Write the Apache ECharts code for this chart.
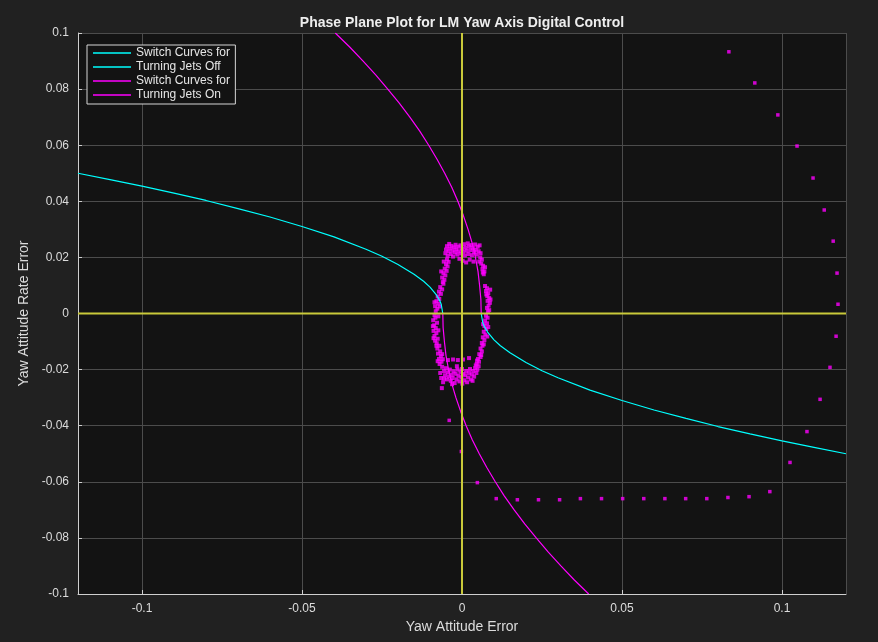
<!DOCTYPE html>
<html>
<head>
<meta charset="utf-8">
<script src="https://cdn.jsdelivr.net/npm/echarts@6/dist/echarts.min.js"></script>
<style>
html,body{margin:0;padding:0;background:#212121;}
#chart{width:878px;height:642px;}
</style>
</head>
<body>
<div id="chart"></div>
<script>
// ---- Data ----
const titleText = 'Phase Plane Plot for LM Yaw Axis Digital Control';
const xAxisName = 'Yaw Attitude Error';
const yAxisName = 'Yaw Attitude Rate Error';
const legendNames = ['Switch Curves for', 'Turning Jets Off', 'Switch Curves for ', 'Turning Jets On'];

// Switch curves for turning jets off (cyan)
const jetsOffUpper = [[-0.12,0.0500],[-0.11,0.0477],[-0.10,0.0454],[-0.09,0.0429],[-0.08,0.0403],[-0.07,0.0374],[-0.06,0.0344],[-0.05,0.0310],[-0.04,0.0273],[-0.03,0.0229],[-0.025,0.0204],[-0.02,0.0175],[-0.015,0.0140],[-0.012,0.0115],[-0.010,0.0094],[-0.008,0.0066],[-0.007,0.0047],[-0.0065,0.0033],[-0.006,0]];
const jetsOffLower = [[0.006,0],[0.0065,-0.0033],[0.007,-0.0047],[0.008,-0.0066],[0.010,-0.0094],[0.012,-0.0115],[0.015,-0.0140],[0.02,-0.0175],[0.025,-0.0204],[0.03,-0.0229],[0.04,-0.0273],[0.05,-0.0310],[0.06,-0.0344],[0.07,-0.0374],[0.08,-0.0403],[0.09,-0.0429],[0.10,-0.0454],[0.11,-0.0477],[0.12,-0.0500]];

// Switch curves for turning jets on (magenta)
const jetsOnUpper = [[-0.0396,0.100],[-0.0351,0.095],[-0.0309,0.090],[-0.0269,0.085],[-0.0232,0.080],[-0.0196,0.075],[-0.0163,0.070],[-0.0132,0.065],[-0.0104,0.060],[-0.0078,0.055],[-0.0054,0.050],[-0.0032,0.045],[-0.0013,0.040],[0.0004,0.035],[0.0019,0.030],[0.0032,0.025],[0.0042,0.020],[0.0050,0.015],[0.0055,0.010],[0.0059,0.005],[0.0060,0]];
const jetsOnLower = [[-0.0060,0],[-0.0059,-0.005],[-0.0055,-0.010],[-0.0050,-0.015],[-0.0042,-0.020],[-0.0032,-0.025],[-0.0019,-0.030],[-0.0004,-0.035],[0.0013,-0.040],[0.0032,-0.045],[0.0054,-0.050],[0.0078,-0.055],[0.0104,-0.060],[0.0132,-0.065],[0.0163,-0.070],[0.0196,-0.075],[0.0232,-0.080],[0.0269,-0.085],[0.0309,-0.090],[0.0351,-0.095],[0.0396,-0.100]];

// Zero reference lines (yellow)
const zeroVertical = [[0,-0.1],[0,0.1]];
const zeroHorizontal = [[-0.12,0],[0.12,0]];

// Sampled trajectory (magenta dots)
const trajectoryPoints = [[0.0834,0.0933],[0.0915,0.0822],[0.0987,0.0708],[0.1047,0.0597],[0.1097,0.0483],[0.1132,0.0369],[0.1160,0.0258],[0.1172,0.0144],[0.1175,0.0033],[0.1169,-0.0081],[0.1150,-0.0192],[0.1119,-0.0306],[0.1078,-0.0421],[0.1025,-0.0531],[0.0962,-0.0635],[0.0897,-0.0653],[0.0831,-0.0656],[0.0765,-0.0660],[0.0699,-0.0660],[0.0634,-0.0660],[0.0568,-0.0660],[0.0502,-0.0660],[0.0436,-0.0660],[0.0370,-0.0660],[0.0305,-0.0664],[0.0239,-0.0664],[0.0173,-0.0664],[0.0107,-0.0660],[0.0048,-0.0603],[-0.0002,-0.0492],[-0.0040,-0.0381]];

// Limit cycle cluster (magenta dots)
const limitCyclePoints = [
[-0.0052,0.0215],[-0.0050,0.0228],[-0.0047,0.0240],[-0.0045,0.0205],[-0.0042,0.0221],[-0.0040,0.0248],[-0.0038,0.0232],[-0.0035,0.0212],[-0.0033,0.0241],[-0.0030,0.0225],[-0.0028,0.0203],[-0.0025,0.0236],[-0.0022,0.0218],[-0.0020,0.0245],[-0.0018,0.0229],[-0.0015,0.0210],[-0.0012,0.0238],[-0.0010,0.0222],[-0.0008,0.0195],[-0.0005,0.0243],[-0.0003,0.0214],[0.0000,0.0231],[0.0002,0.0188],[0.0004,0.0220],[0.0006,0.0247],[0.0009,0.0207],[0.0011,0.0235],[0.0013,0.0182],[0.0015,0.0224],[0.0018,0.0250],[0.0020,0.0212],[0.0022,0.0239],[0.0024,0.0192],[0.0027,0.0226],[0.0029,0.0244],[0.0031,0.0208],[0.0034,0.0233],[0.0036,0.0185],[0.0038,0.0219],[0.0041,0.0246],[0.0043,0.0227],[0.0046,0.0210],[0.0049,0.0238],[0.0052,0.0222],[0.0055,0.0243],[0.0058,0.0215],
[0.0057,0.0200],[0.0062,0.0192],[0.0060,0.0178],[0.0066,0.0170],[0.0064,0.0158],[0.0070,0.0150],[0.0068,0.0140],
[0.0054,0.0185],[0.0072,0.0165],[0.0065,0.0146],
[0.0072,0.0098],[0.0078,0.0090],[0.0075,0.0080],[0.0082,0.0072],[0.0079,0.0062],[0.0085,0.0055],[0.0080,0.0045],[0.0087,0.0038],[0.0083,0.0028],[0.0078,0.0020],[0.0085,0.0012],
[0.0088,0.0085],[0.0076,0.0068],[0.0089,0.0050],[0.0081,0.0008],
[0.0075,-0.0008],[0.0080,-0.0015],[0.0072,-0.0025],[0.0078,-0.0035],[0.0070,-0.0045],[0.0076,-0.0055],[0.0068,-0.0065],[0.0073,-0.0075],[0.0065,-0.0085],[0.0070,-0.0095],[0.0062,-0.0105],
[0.0082,-0.0048],[0.0066,-0.0038],[0.0079,-0.0082],[0.0068,-0.0110],
[0.0064,-0.0115],[0.0058,-0.0125],[0.0062,-0.0135],[0.0054,-0.0145],[0.0058,-0.0155],[0.0050,-0.0162],[0.0053,-0.0172],[0.0046,-0.0180],
[0.0060,-0.0148],[0.0047,-0.0168],
[0.0052,-0.0188],[0.0048,-0.0200],[0.0045,-0.0212],[0.0041,-0.0195],[0.0038,-0.0225],[0.0035,-0.0205],[0.0031,-0.0218],[0.0028,-0.0235],[0.0025,-0.0198],[0.0022,-0.0212],[0.0019,-0.0228],[0.0016,-0.0245],[0.0013,-0.0205],[0.0010,-0.0220],[0.0007,-0.0238],[0.0004,-0.0215],[0.0001,-0.0250],[-0.0002,-0.0227],[-0.0005,-0.0208],[-0.0008,-0.0242],[-0.0011,-0.0222],[-0.0014,-0.0200],[-0.0017,-0.0235],[-0.0020,-0.0215],[-0.0023,-0.0248],[-0.0026,-0.0206],[-0.0029,-0.0230],[-0.0032,-0.0218],[-0.0035,-0.0240],[-0.0038,-0.0200],[-0.0041,-0.0225],[-0.0044,-0.0210],[-0.0047,-0.0235],[-0.0050,-0.0195],[-0.0053,-0.0220],[-0.0056,-0.0205],[-0.0059,-0.0245],[-0.0062,-0.0190],[-0.0065,-0.0230],[-0.0068,-0.0212],
[-0.0056,-0.0232],[0.0000,-0.0198],[0.0033,-0.0240],[-0.0031,-0.0252],[0.0043,-0.0185],[-0.0016,-0.0188],
[-0.0070,-0.0180],[-0.0064,-0.0172],[-0.0072,-0.0162],[-0.0066,-0.0152],[-0.0075,-0.0143],[-0.0068,-0.0135],[-0.0077,-0.0125],[-0.0071,-0.0115],[-0.0079,-0.0106],
[-0.0080,-0.0115],[-0.0062,-0.0145],[-0.0076,-0.0170],[-0.0060,-0.0163],
[-0.0084,-0.0097],[-0.0076,-0.0090],[-0.0086,-0.0080],[-0.0080,-0.0070],[-0.0089,-0.0062],[-0.0082,-0.0052],[-0.0087,-0.0042],[-0.0078,-0.0033],[-0.0090,-0.0024],[-0.0083,-0.0015],[-0.0086,-0.0006],
[-0.0091,-0.0045],[-0.0074,-0.0060],[-0.0089,-0.0088],[-0.0074,-0.0010],
[-0.0082,0.0008],[-0.0077,0.0017],[-0.0084,0.0026],[-0.0074,0.0035],[-0.0080,0.0044],[-0.0071,0.0052],[-0.0076,0.0061],[-0.0066,0.0070],[-0.0072,0.0078],[-0.0062,0.0086],[-0.0068,0.0094],
[-0.0086,0.0040],[-0.0070,0.0025],
[-0.0060,0.0112],[-0.0055,0.0120],[-0.0062,0.0128],[-0.0052,0.0136],[-0.0058,0.0144],[-0.0048,0.0152],[-0.0054,0.0160],[-0.0045,0.0168],[-0.0050,0.0176],[-0.0042,0.0184],[-0.0047,0.0192],
[-0.0057,0.0185],[-0.0065,0.0150],[-0.0058,0.0106],
[-0.0044,-0.0166],[-0.0028,-0.0164],[-0.0013,-0.0166],[0.0003,-0.0164],[0.0022,-0.0159],
[-0.0063,-0.0266]
];

// Axis settings
const xRange = [-0.12, 0.12];
const yRange = [-0.1, 0.1];
const yStep = 0.02;

// ---- Chart ----
const FONT = "'Liberation Sans', Arial, Helvetica, sans-serif";
const CYAN = '#00ffff', MAGENTA = '#ff00ff', YELLOW = '#c9c93a';
const chart = echarts.init(document.getElementById('chart'), null, {renderer: 'canvas'});

function curve(name, data, color) {
  return {
    name: name, type: 'line', data: data, symbol: 'none', showSymbol: false,
    lineStyle: {color: color, width: 1.2}, itemStyle: {color: color},
    z: 3, silent: true, animation: false
  };
}
function dots(data, size) {
  return {
    type: 'scatter', data: data, symbol: 'rect', symbolSize: size,
    itemStyle: {color: MAGENTA}, z: 2, silent: true, animation: false
  };
}
function refLine(data) {
  return {
    type: 'line', data: data, symbol: 'none', showSymbol: false,
    lineStyle: {color: YELLOW, width: 2}, z: 4, silent: true, animation: false
  };
}

chart.setOption({
  backgroundColor: '#212121',
  animation: false,
  textStyle: {fontFamily: FONT},
  grid: {left: 78, right: 32, top: 33, bottom: 48, show: true, backgroundColor: '#131313', borderWidth: 0, containLabel: false, outerBoundsMode: 'none'},
  graphic: [{
    type: 'text', x: 462, y: 16, z: 10,
    style: {text: titleText, fill: '#eeeeee', font: 'bold 14px ' + FONT, textAlign: 'center', textVerticalAlign: 'top'}
  }],
  legend: {
    data: legendNames, orient: 'vertical', left: 87, top: 45,
    icon: 'rect', itemWidth: 38, itemHeight: 1.4, itemGap: 0,
    padding: [1, 2, 2, 6],
    backgroundColor: '#131313', borderColor: '#d6d6d6', borderWidth: 1,
    textStyle: {color: '#e6e6e6', fontSize: 12, fontFamily: FONT, lineHeight: 14},
    selectedMode: false
  },
  xAxis: {
    type: 'value', min: xRange[0], max: xRange[1], splitNumber: 5,
    name: xAxisName, nameLocation: 'middle', nameGap: 20,
    nameTextStyle: {color: '#dcdcdc', fontSize: 14, fontFamily: FONT},
    axisLine: {show: true, onZero: false, lineStyle: {color: '#cfcfcf', width: 1}},
    axisTick: {show: true, inside: true, length: 4, lineStyle: {color: '#cfcfcf'}},
    axisLabel: {color: '#dcdcdc', fontSize: 12, margin: 9, showMinLabel: false, showMaxLabel: false, fontFamily: FONT},
    splitLine: {show: true, lineStyle: {color: '#4c4c4c', width: 1}}
  },
  yAxis: {
    type: 'value', min: yRange[0], max: yRange[1], interval: yStep,
    name: yAxisName, nameLocation: 'middle', nameGap: 34,
    nameTextStyle: {color: '#dcdcdc', fontSize: 14, fontFamily: FONT},
    axisLine: {show: true, onZero: false, lineStyle: {color: '#cfcfcf', width: 1}},
    axisTick: {show: true, inside: true, length: 4, lineStyle: {color: '#cfcfcf'}},
    axisLabel: {color: '#dcdcdc', fontSize: 12, margin: 9, fontFamily: FONT},
    splitLine: {show: true, lineStyle: {color: '#4c4c4c', width: 1}}
  },
  series: [
    dots(limitCyclePoints, 4),
    dots(trajectoryPoints, 3.5),
    curve(legendNames[0], jetsOffUpper, CYAN),
    curve(legendNames[1], jetsOffLower, CYAN),
    curve(legendNames[2], jetsOnUpper, MAGENTA),
    curve(legendNames[3], jetsOnLower, MAGENTA),
    refLine(zeroVertical),
    refLine(zeroHorizontal)
  ]
});
</script>
</body>
</html>
